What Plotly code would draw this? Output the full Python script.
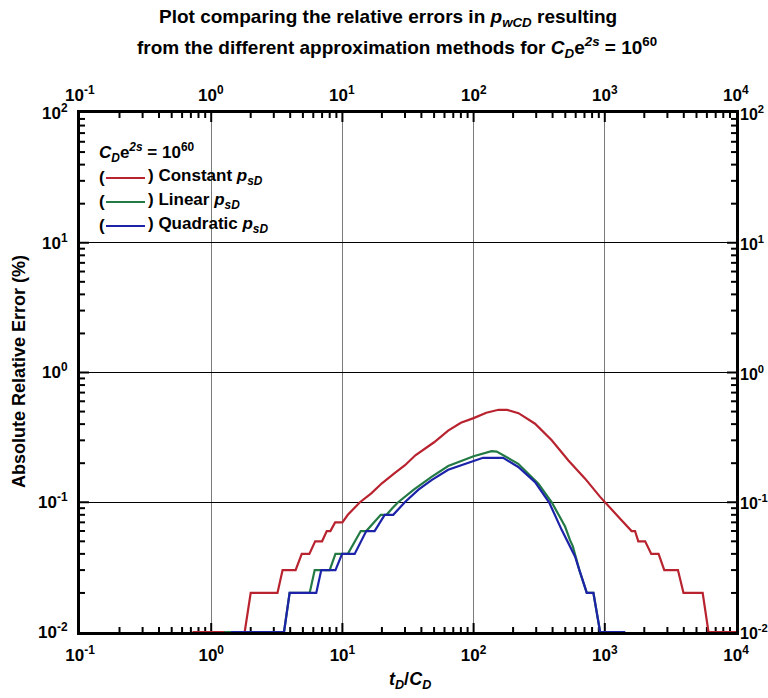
import math
import plotly.graph_objects as go

# ---- data ----
const_x = [0.72, 1.8, 2.0, 3.2, 3.5, 4.4, 4.9, 5.6, 6.2, 7.0, 7.6, 8.1, 8.8, 10.0, 11.0, 12.4, 13.6,
           16.6, 20.0, 25.0, 30.0, 36.0, 50.0, 64.0, 80.0, 100.0, 125.0, 155.0, 180.0, 220.0, 294.0,
           394.0, 528.0, 708.0, 921.0, 1273.0, 1500.0, 1600.0, 1700.0, 1800.0, 2030.0, 2260.0,
           2570.0, 2840.0, 3610.0, 3980.0, 5570.0, 6170.0, 10000.0]
const_y = [0.01, 0.01, 0.02, 0.02, 0.03, 0.03, 0.04, 0.04, 0.05, 0.05, 0.06, 0.06, 0.07, 0.07, 0.08,
           0.09, 0.10, 0.117, 0.14, 0.168, 0.193, 0.23, 0.29, 0.357, 0.41, 0.445, 0.49, 0.516, 0.515,
           0.486, 0.403, 0.30, 0.21, 0.152, 0.11, 0.077, 0.065, 0.06, 0.06, 0.05, 0.05, 0.04, 0.04,
           0.03, 0.03, 0.02, 0.02, 0.01, 0.01]

linear_x = [1.26, 3.59, 3.96, 5.63, 6.15, 8.0, 8.85, 11.0, 13.8, 15.2, 19.6, 21.7, 24.0, 26.6, 35.0,
            47.8, 64.0, 100.0, 137.0, 150.0, 219.0, 312.0, 394.0, 498.0, 543.0, 570.0, 640.0, 729.0,
            819.0, 921.0, 1430.0]
linear_y = [0.01, 0.01, 0.02, 0.02, 0.03, 0.03, 0.04, 0.04, 0.06, 0.06, 0.08, 0.08, 0.09, 0.10, 0.125,
            0.157, 0.19, 0.226, 0.248, 0.246, 0.198, 0.139, 0.10, 0.065, 0.051, 0.046, 0.03, 0.02,
            0.02, 0.01, 0.01]

quad_x = [1.42, 3.59, 3.96, 6.32, 6.9, 8.85, 9.95, 12.4, 15.2, 17.6, 21.0, 24.4, 29.9, 38.0, 47.8,
          64.0, 100.0, 118.0, 168.0, 219.0, 294.0, 376.0, 470.0, 594.0, 640.0, 729.0, 819.0, 921.0,
          1430.0]
quad_y = [0.01, 0.01, 0.02, 0.02, 0.03, 0.03, 0.04, 0.04, 0.06, 0.06, 0.08, 0.08, 0.10, 0.125, 0.148,
          0.178, 0.208, 0.22, 0.22, 0.187, 0.143, 0.10, 0.061, 0.038, 0.03, 0.02, 0.02, 0.01, 0.01]

x_tickvals = [0.1, 1, 10, 100, 1000, 10000]
x_ticktext = ["10<sup>-1</sup>", "10<sup>0</sup>", "10<sup>1</sup>", "10<sup>2</sup>",
              "10<sup>3</sup>", "10<sup>4</sup>"]
y_tickvals = [0.01, 0.1, 1, 10, 100]
y_ticktext = ["10<sup>-2</sup>", "10<sup>-1</sup>", "10<sup>0</sup>", "10<sup>1</sup>", "10<sup>2</sup>"]

RED = "#b8232f"
GREEN = "#237a45"
BLUE = "#1c23a8"
FONT = "Liberation Sans, Arial, Helvetica, sans-serif"
PW, PH = 656, 519
XR = [-1, 4]
YR = [-2, 2]

fig = go.Figure()

# ---- inside tick marks on all four sides, drawn as line segments through the axis scale ----
x_dec_per_px = (XR[1] - XR[0]) / PW
y_dec_per_px = (YR[1] - YR[0]) / PH
xmin, xmax = 10 ** XR[0], 10 ** XR[1]
ymin, ymax = 10 ** YR[0], 10 ** YR[1]

tx, ty = [], []
def xtick(v, length):
    f = 10 ** (length * y_dec_per_px)
    tx.extend([v, v, None, v, v, None])
    ty.extend([ymin, ymin * f, None, ymax, ymax / f, None])

def ytick(v, length):
    f = 10 ** (length * x_dec_per_px)
    tx.extend([xmin, xmin * f, None, xmax, xmax / f, None])
    ty.extend([v, v, None, v, v, None])

for dec in x_tickvals[:-1]:
    for d in range(2, 10):
        xtick(dec * d, 5)
for dec in x_tickvals[1:-1]:
    xtick(dec, 9)
for dec in y_tickvals[:-1]:
    for d in range(2, 10):
        ytick(dec * d, 5)
for dec in y_tickvals[1:-1]:
    ytick(dec, 9)

fig.add_trace(go.Scatter(x=tx, y=ty, mode="lines", line=dict(color="black", width=2),
                         connectgaps=False, showlegend=False, hoverinfo="skip"))

# ---- data curves ----
fig.add_trace(go.Scatter(x=const_x, y=const_y, mode="lines", line=dict(color=RED, width=2.2),
                         name="Constant", showlegend=False))
fig.add_trace(go.Scatter(x=linear_x, y=linear_y, mode="lines", line=dict(color=GREEN, width=2.2),
                         name="Linear", showlegend=False))
fig.add_trace(go.Scatter(x=quad_x, y=quad_y, mode="lines", line=dict(color=BLUE, width=2.2),
                         name="Quadratic", showlegend=False))

tickfont = dict(family=FONT, size=17, color="black", weight="bold")
rightfont = dict(family=FONT, size=16, color="black", weight="bold")

fig.update_layout(
    width=768, height=698,
    margin=dict(l=80, r=32, t=113, b=66, autoexpand=False),
    paper_bgcolor="white", plot_bgcolor="white",
    showlegend=False,
    xaxis=dict(type="log", range=XR, tickvals=x_tickvals, ticktext=x_ticktext,
               tickfont=tickfont, ticks="", showline=True, mirror=True, linewidth=3,
               linecolor="black",
               showgrid=True, gridcolor="#7a7a7a", gridwidth=1, zeroline=False,
               automargin=False, ticklabelstandoff=6),
    yaxis=dict(type="log", range=YR, tickvals=y_tickvals, ticktext=y_ticktext,
               tickfont=tickfont, ticks="", showline=True, mirror=True, linewidth=3,
               linecolor="black",
               showgrid=True, gridcolor="black", gridwidth=1, zeroline=False,
               automargin=False, ticklabelstandoff=6),
)

# tick labels on the top and right sides (placed through the axis scale)
for v, t in zip(x_tickvals, x_ticktext):
    fig.add_annotation(text=t, xref="x", yref="paper", x=math.log10(v), y=1, yshift=6,
                       showarrow=False, xanchor="center", yanchor="bottom", font=tickfont)
for v, t in zip(y_tickvals, y_ticktext):
    fig.add_annotation(text=t, xref="paper", yref="y", x=1, y=math.log10(v), xshift=2,
                       showarrow=False, xanchor="left", yanchor="middle", font=rightfont)

def px_x(px):
    return (px - 80) / PW

def px_y(py):
    return (632 - py) / PH

title_font = dict(family=FONT, size=19, color="black", weight="bold")
fig.add_annotation(text="Plot comparing the relative errors in <i>p</i><sub><i>wCD</i></sub> resulting",
                   xref="paper", yref="paper", x=px_x(388), y=px_y(18), showarrow=False,
                   xanchor="center", yanchor="middle", font=title_font)
fig.add_annotation(text="from the different approximation methods for <i>C</i><sub><i>D</i></sub>e<sup><i>2s</i></sup> = 10<sup>60</sup>",
                   xref="paper", yref="paper", x=px_x(397), y=px_y(48), showarrow=False,
                   xanchor="center", yanchor="middle", font=title_font)

# axis titles
axt_font = dict(family=FONT, size=18, color="black", weight="bold")
fig.add_annotation(text="<i>t</i><sub><i>D</i></sub>/<i>C</i><sub><i>D</i></sub>", xref="paper", yref="paper",
                   x=px_x(410), y=px_y(680), showarrow=False,
                   xanchor="center", yanchor="middle", font=axt_font)
fig.add_annotation(text="Absolute Relative Error (%)", xref="paper", yref="paper",
                   x=px_x(19), y=px_y(372), showarrow=False, textangle=-90,
                   xanchor="center", yanchor="middle", font=axt_font)

# in-plot legend
leg_font = dict(family=FONT, size=17, color="black", weight="bold")
fig.add_annotation(text="<i>C</i><sub><i>D</i></sub>e<sup><i>2s</i></sup> = 10<sup>60</sup>",
                   xref="paper", yref="paper", x=px_x(97), y=px_y(152), showarrow=False,
                   xanchor="left", yanchor="middle", font=leg_font)
rows = [("Constant", RED, 177), ("Linear", GREEN, 201), ("Quadratic", BLUE, 225)]
for name, col, yy in rows:
    fig.add_annotation(text="(", xref="paper", yref="paper", x=px_x(97), y=px_y(yy),
                       showarrow=False, xanchor="left", yanchor="middle", font=leg_font)
    fig.add_shape(type="line", xref="paper", yref="paper", x0=px_x(106), x1=px_x(145),
                  y0=px_y(yy + 1), y1=px_y(yy + 1), line=dict(color=col, width=2))
    fig.add_annotation(text=") " + name + " <i>p</i><sub><i>sD</i></sub>", xref="paper", yref="paper",
                       x=px_x(146), y=px_y(yy), showarrow=False, xanchor="left", yanchor="middle",
                       font=leg_font)

fig.write_html("out.html")
